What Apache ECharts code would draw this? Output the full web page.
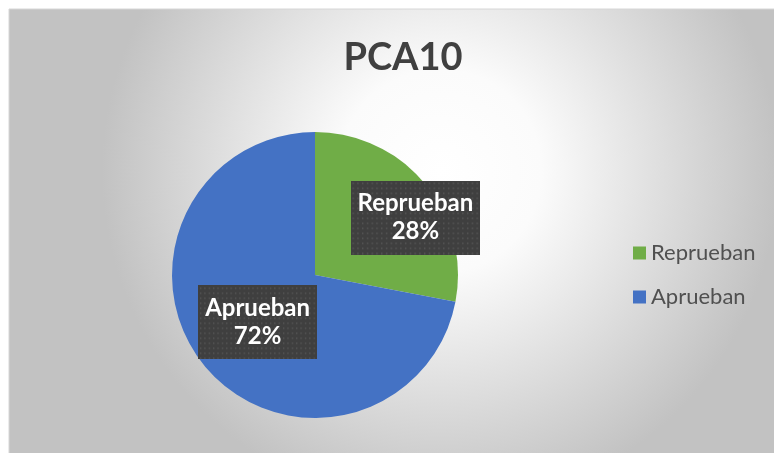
<!DOCTYPE html>
<html>
<head>
<meta charset="utf-8">
<script src="https://cdn.jsdelivr.net/npm/echarts@6/dist/echarts.min.js"></script>
<style>
html, body { margin: 0; padding: 0; background: #fff; }
#main { width: 774px; height: 453px; }
</style>
</head>
<body>
<div id="main"></div>
<script>
// datos
var categorias = ['Reprueban', 'Aprueban']
var valores = [28, 72]
var colores = ['#70AD47', '#4472C4']

// fondo punteado de las etiquetas
function patron(w, h) {
	var c = document.createElement('canvas')
	c.width = w
	c.height = h
	var ctx = c.getContext('2d')
	ctx.fillStyle = '#3f3f3f'
	ctx.fillRect(0, 0, w, h)
	ctx.fillStyle = '#585858'
	for (var y = 2; y < h; y += 5) {
		for (var x = 2; x < w; x += 5) {
			ctx.fillRect(x, y, 1.5, 1.5)
		}
	}
	return c
}
var fondo = patron(136, 74)

var chart = echarts.init(document.getElementById('main'))

var datos = categorias.map(function (n, i) {
	var item = { name: n, value: valores[i], itemStyle: { color: colores[i] } }
	if (i == 0) {
		item.label = { offset: [43, -10] }
	}
	return item
})

var option = {
	animation: false,
	graphic: [{
		type: 'rect',
		shape: { x: 9, y: 9, width: 770, height: 450 },
		style: {
			fill: {
				type: 'radial', x: 0.56, y: 0.36, r: 0.75,
				colorStops: [
					{ offset: 0, color: '#ffffff' },
					{ offset: 0.3, color: '#fbfbfb' },
					{ offset: 1, color: '#c2c2c2' }
				]
			},
			stroke: '#d6d6d6',
			lineWidth: 1
		},
		z: -10
	}],
	title: {
		text: 'PCA10',
		left: 398,
		textAlign: 'center',
		top: 34,
		textStyle: {
			fontFamily: 'Lato',
			fontWeight: 'bold',
			fontSize: 38,
			color: '#404040'
		}
	},
	legend: {
		orient: 'vertical',
		left: 633,
		top: 242,
		padding: 0,
		itemWidth: 13,
		itemHeight: 13,
		itemGap: 22,
		icon: 'rect',
		data: categorias,
		textStyle: {
			fontFamily: 'Lato',
			fontSize: 22,
			color: '#505050'
		}
	},
	series: [{
		type: 'pie',
		center: [315, 275],
		radius: 143,
		startAngle: 90,
		clockwise: true,
		percentPrecision: 0,
		label: {
			position: 'inside',
			formatter: '{b}\n{d}%',
			fontFamily: 'Lato',
			fontWeight: 'bold',
			fontSize: 24,
			lineHeight: 28,
			color: '#ffffff',
			align: 'center',
			padding: [9, 7, 9, 7],
			backgroundColor: { image: fondo },
			shadowBlur: 6,
			shadowOffsetX: 3,
			shadowOffsetY: 3,
			shadowColor: 'rgba(0,0,0,0.45)'
		},
		labelLine: { show: false },
		emphasis: { disabled: true },
		data: datos
	}]
}

chart.setOption(option)
</script>
</body>
</html>
